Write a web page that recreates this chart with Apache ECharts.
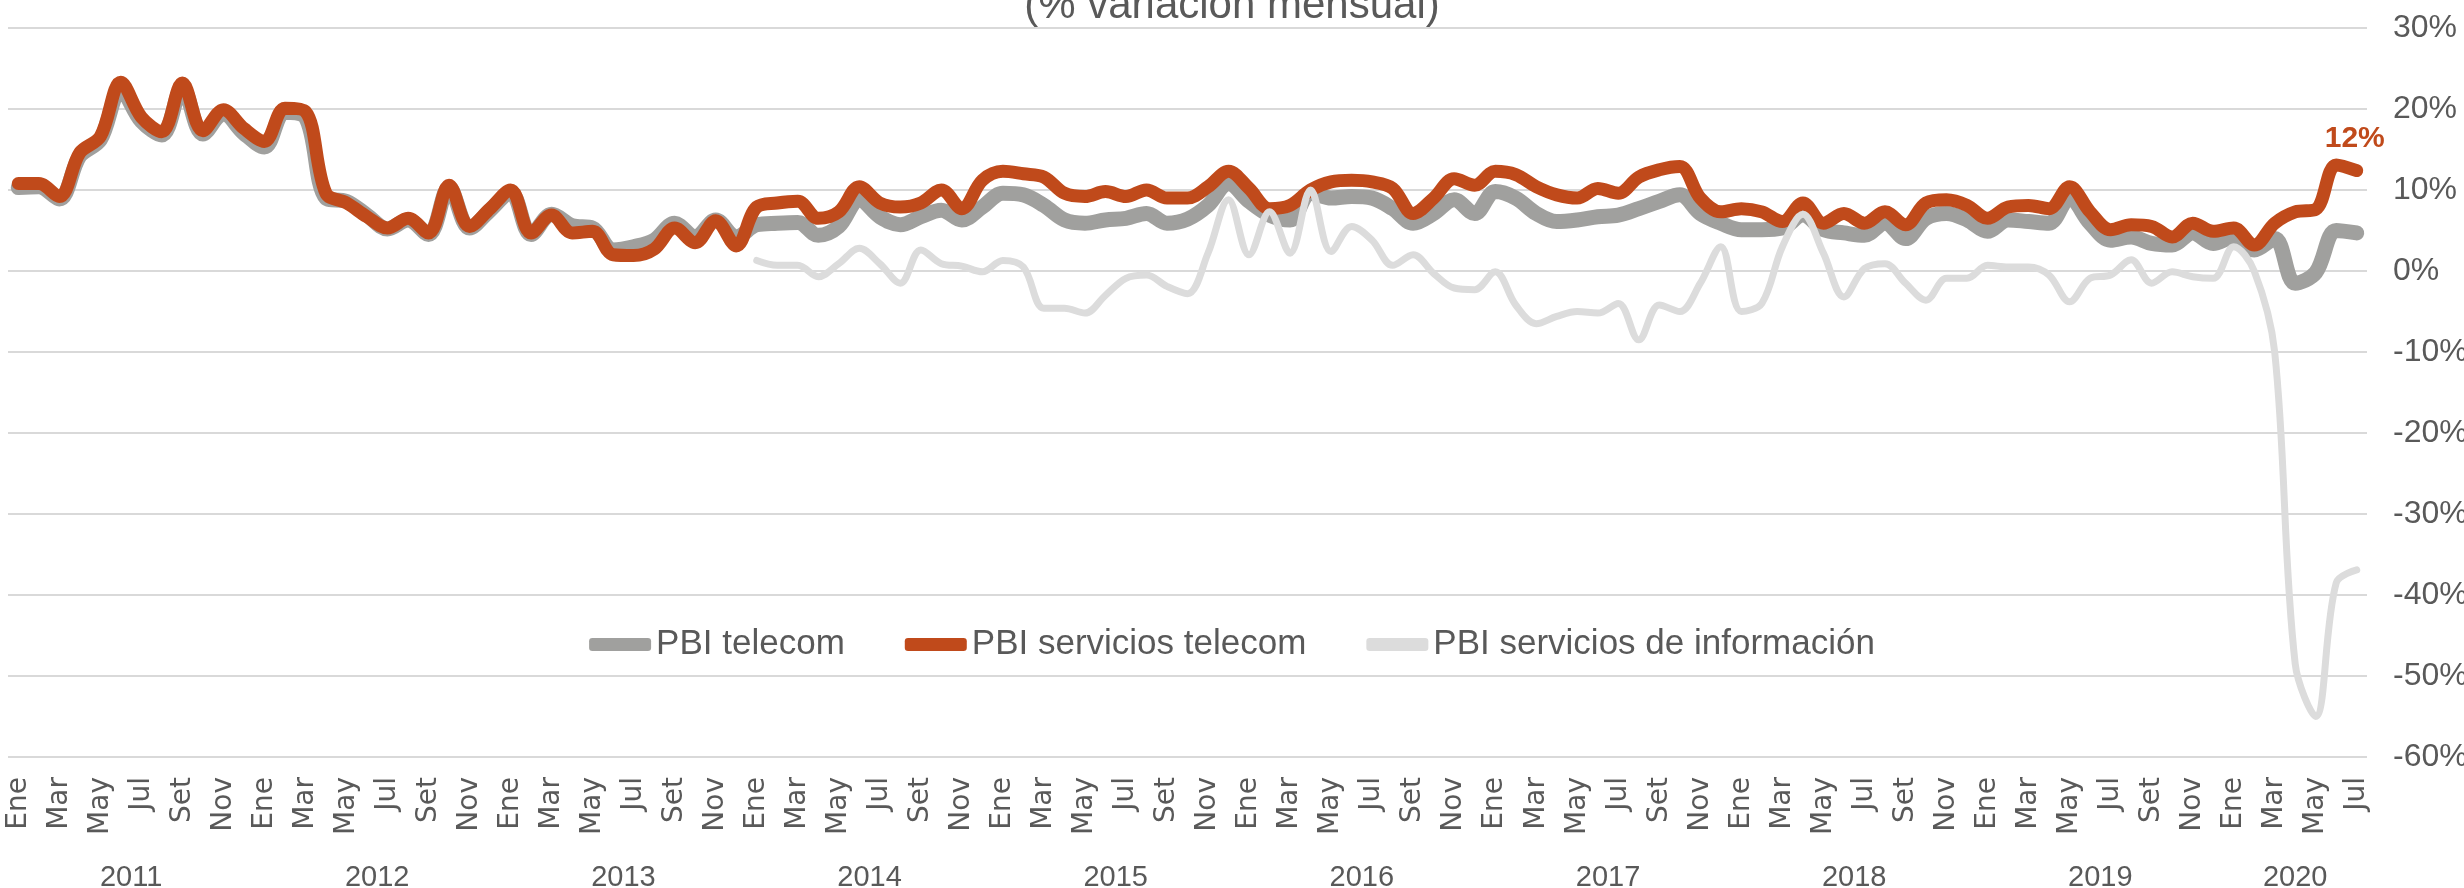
<!DOCTYPE html>
<html>
<head>
<meta charset="utf-8">
<script src="https://cdn.jsdelivr.net/npm/echarts@6/dist/echarts.min.js"></script>
<style>
  html, body { margin: 0; padding: 0; background: #fff; }
  #chart { width: 2464px; height: 888px; }
</style>
</head>
<body>
<div id="chart"></div>
<script>
// meses y años del eje x
const monthNames = ['Ene', 'Feb', 'Mar', 'Abr', 'May', 'Jun', 'Jul', 'Ago', 'Set', 'Oct', 'Nov', 'Dic'];
const years = [2011, 2012, 2013, 2014, 2015, 2016, 2017, 2018, 2019, 2020];
const lastYearMonths = 7; // 2020 llega hasta Jul

// PBI telecom (% variación mensual), Ene 2011 - Jul 2020
const pbiTelecom = [
  10.3, 10.4, 8.9, 14.2, 16.2, 22.3, 18.5, 16.8, 22.6, 16.9, 19.4, 17.0,
  15.3, 19.6, 19.0, 9.0, 8.6, 6.9, 5.2, 6.3, 4.5, 10.3, 5.3, 7.5,
  9.7, 4.5, 7.0, 5.6, 5.3, 2.6, 3.0, 3.8, 5.9, 4.2, 6.3, 4.2,
  5.7, 5.9, 6.0, 4.4, 5.5, 8.8, 6.7, 5.7, 6.7, 7.5, 6.3, 7.9,
  9.6, 9.4, 8.1, 6.3, 5.9, 6.3, 6.5, 7.1, 5.9, 6.4, 8.1, 10.8,
  8.6, 6.9, 6.3, 9.6, 9.0, 9.2, 9.0, 7.7, 5.9, 7.1, 8.8, 7.1,
  9.8, 9.0, 7.1, 6.1, 6.3, 6.7, 6.9, 7.7, 8.6, 9.4, 7.1, 5.9,
  5.1, 5.1, 5.3, 6.9, 5.1, 4.7, 4.4, 5.9, 4.0, 6.5, 7.1, 6.3,
  4.9, 6.3, 6.1, 5.9, 9.0, 5.9, 3.8, 4.2, 3.4, 3.2, 4.7, 3.4,
  4.2, 2.6, 4.0, -1.5, -0.2, 5.0, 4.7
];

// PBI servicios telecom
const pbiServTelecom = [
  10.8, 10.8, 9.2, 14.6, 16.6, 23.3, 19.0, 17.2, 23.2, 17.3, 19.9, 17.6,
  16.0, 20.1, 19.7, 9.6, 8.4, 6.7, 5.3, 6.5, 4.7, 10.6, 5.5, 7.7,
  10.0, 4.7, 6.9, 4.7, 4.9, 2.0, 1.9, 2.7, 5.3, 3.5, 6.2, 3.1,
  7.9, 8.4, 8.6, 6.5, 7.3, 10.4, 8.4, 7.9, 8.4, 10.0, 7.7, 11.2,
  12.3, 12.0, 11.6, 9.6, 9.2, 9.8, 9.2, 10.0, 9.0, 9.0, 10.4, 12.3,
  10.2, 7.7, 8.1, 10.0, 11.0, 11.2, 11.0, 10.2, 7.1, 9.0, 11.4, 10.6,
  12.3, 11.9, 10.4, 9.4, 9.0, 10.2, 9.6, 11.6, 12.5, 12.9, 9.0, 7.3,
  7.7, 7.3, 6.1, 8.4, 5.9, 7.1, 5.9, 7.3, 5.7, 8.4, 8.8, 8.1,
  6.5, 7.9, 8.1, 7.7, 10.4, 7.3, 5.1, 5.7, 5.5, 4.2, 5.9, 4.9,
  5.3, 3.2, 5.9, 7.3, 7.6, 13.1, 12.4
];

// PBI servicios de información, empieza en Ene 2014
const infoStart = 36;
const pbiServInfo = [
  1.3, 0.7, 0.7, -0.7, 0.9, 2.8, 0.9, -1.5, 2.6, 0.9, 0.6, -0.1,
  1.3, 0.5, -4.6, -4.6, -5.2, -3.0, -0.9, -0.5, -1.9, -2.8, 2.2, 8.8,
  2.0, 7.3, 2.2, 10.0, 2.4, 5.5, 3.8, 0.7, 2.0, -0.3, -2.1, -2.3,
  -0.1, -4.2, -6.5, -5.6, -5.0, -5.2, -4.0, -8.5, -4.2, -5.0, -1.5, 3.0,
  -5.0, -4.0, 3.0, 7.0, 2.2, -3.2, 0.3, 0.9, -1.5, -3.6, -0.9, -0.9,
  0.7, 0.5, 0.5, -0.5, -3.8, -0.9, -0.5, 1.4, -1.5, -0.1, -0.7, -0.9,
  3.0, 0.0, -10.0, -48.5, -55.0, -38.5, -36.9
];

const orange = '#C04A1B';
const gray = '#A0A09E';
const light = '#DCDCDC';
const textColor = '#595959';
const font = 'Liberation Sans';

let categories = [];
years.forEach((y, yi) => {
  let n = yi === years.length - 1 ? lastYearMonths : 12;
  for (let m = 0; m < n; m++) categories.push(monthNames[m]);
});
const nCat = categories.length;

// centro de cada año, en unidades de categoría
let yearCenter = {};
years.forEach((y, yi) => {
  let start = yi * 12;
  let n = yi === years.length - 1 ? lastYearMonths : 12;
  yearCenter[(start + n / 2).toFixed(1)] = String(y);
});

let infoData = new Array(infoStart).fill(null).concat(pbiServInfo);

let chart = echarts.init(document.getElementById('chart'));
chart.setOption({
  backgroundColor: '#fff',
  animation: false,
  title: {
    text: '(% variación mensual)',
    left: 'center',
    top: -15,
    padding: 0,
    textStyle: { color: textColor, fontSize: 42, fontWeight: 'normal', fontFamily: font }
  },
  legend: {
    top: 622,
    left: 'center',
    itemWidth: 62,
    itemHeight: 13,
    itemGap: 60,
    textStyle: { color: textColor, fontSize: 35, fontFamily: font },
    data: [
      { name: 'PBI telecom', icon: 'roundRect' },
      { name: 'PBI servicios telecom', icon: 'roundRect' },
      { name: 'PBI servicios de información', icon: 'roundRect' }
    ]
  },
  grid: { left: 8, right: 97, top: 28, bottom: 131, containLabel: false, outerBoundsMode: 'none' },
  xAxis: [{
    type: 'category',
    data: categories,
    boundaryGap: true,
    axisLine: { show: false },
    axisTick: { show: false },
    axisLabel: {
      interval: 1,
      rotate: 90,
      margin: 20,
      fontSize: 28,
      fontFamily: 'DejaVu Sans',
      color: (v, i) => (i === nCat - 1 ? orange : textColor)
    }
  }, {
    type: 'value',
    position: 'bottom',
    min: 0,
    max: nCat,
    interval: 0.5,
    axisLine: { show: false },
    axisTick: { show: false },
    splitLine: { show: false },
    axisLabel: {
      margin: 106,
      fontSize: 29,
      fontFamily: font,
      color: textColor,
      formatter: v => yearCenter[v.toFixed(1)] || ''
    }
  }],
  yAxis: {
    type: 'value',
    position: 'right',
    min: -60,
    max: 30,
    interval: 10,
    axisLine: { show: false },
    axisTick: { show: false },
    splitLine: { lineStyle: { color: '#D9D9D9', width: 2 } },
    axisLabel: {
      formatter: '{value}%',
      margin: 26,
      fontSize: 32,
      fontFamily: font,
      color: textColor
    }
  },
  series: [{
    name: 'PBI telecom',
    type: 'line',
    data: pbiTelecom,
    smooth: 0.35,
    symbol: 'none',
    color: gray,
    lineStyle: { color: gray, width: 15, cap: 'round', join: 'round' },
    z: 2
  }, {
    name: 'PBI servicios telecom',
    type: 'line',
    data: pbiServTelecom,
    smooth: 0.35,
    symbol: 'none',
    color: orange,
    lineStyle: { color: orange, width: 13, cap: 'round', join: 'round' },
    endLabel: {
      show: true,
      formatter: p => Math.round(p.value) + '%',
      color: orange,
      fontWeight: 'bold',
      fontSize: 30,
      fontFamily: font,
      offset: [-40, -32]
    },
    z: 3
  }, {
    name: 'PBI servicios de información',
    type: 'line',
    data: infoData,
    smooth: 0.35,
    symbol: 'none',
    color: light,
    lineStyle: { color: light, width: 7, cap: 'round', join: 'round' },
    z: 4
  }]
});
window.onresize = () => {
  chart.resize();
}
</script>
</body>
</html>
